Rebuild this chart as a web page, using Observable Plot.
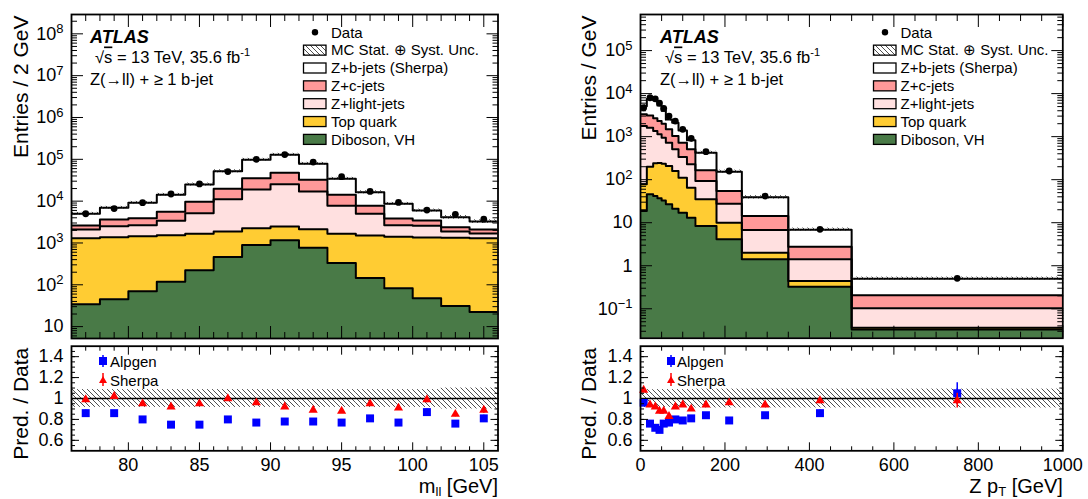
<!DOCTYPE html>
<html>
<head>
<meta charset="utf-8">
<script src="https://cdn.jsdelivr.net/npm/d3@7"></script>
<script src="https://cdn.jsdelivr.net/npm/@observablehq/plot@0.6"></script>
<style>
  html,body{margin:0;padding:0;background:#fff;}
  #fig{position:relative;width:1088px;height:499px;overflow:hidden;background:#fff;}
  #fig > svg{position:absolute;}
</style>
</head>
<body>
<div id="fig">
<svg id="defs" width="0" height="0" style="position:absolute;left:0;top:0">
  <defs>
    <pattern id="hatch" patternUnits="userSpaceOnUse" width="5" height="5">
      <path d="M-1,-1 L6,6 M-1,4 L1,6 M4,-1 L6,1" stroke="#222" stroke-width="0.8" fill="none"/>
    </pattern>
  </defs>
</svg>
</div>
<script>
const FONT = '"Liberation Sans", Arial, Helvetica, sans-serif';

// ---------------- Left panel: m_ll ----------------
const mllEdges = [76,78,80,82,84,86,88,90,92,94,96,98,100,102,104,106];
const mllData  = [5000,6650,9200,14800,25800,51000,100000,130000,86000,38400,17100,9300,6100,4850,3700];
const mllZb    = [2362,3280,5200,8610,15330,32200,62000,80700,45650,19980,8610,4770,2520,1745,1158];
const mllZc    = [516,1130,1250,2170,4480,8600,16340,22140,15370,6440,2750,1190,870,500,413];
const mllZl    = [797,1130,1200,1850,3490,9230,16710,22890,14850,6070,3470,1250,1220,550,384];
const mllTop   = [1261,1325,1376,1410,1429,1409,1348,1307,1363,1317,1357,1318,1299,1293,1273];
const mllVV    = [34.2,45,69.9,119,222,465,900,1160,764,334,146,82.5,47.5,31.3,22.5];
const mllUnc   = [0.085,0.085,0.085,0.085,0.085,0.085,0.085,0.085,0.085,0.085,0.085,0.085,0.085,0.1,0.1];
const mllAlpgen    = [0.86,0.86,0.80,0.75,0.75,0.80,0.77,0.78,0.78,0.77,0.81,0.77,0.87,0.76,0.81];
const mllAlpgenErr = [0.03,0.025,0.02,0.015,0.015,0.01,0.01,0.01,0.01,0.012,0.015,0.02,0.03,0.025,0.03];
const mllSherpa    = [0.99,1.02,0.95,0.92,0.95,1.00,0.96,0.92,0.89,0.88,0.95,0.91,0.99,0.85,0.89];
const mllSherpaErr = [0.03,0.025,0.02,0.015,0.015,0.01,0.01,0.01,0.01,0.012,0.015,0.02,0.03,0.025,0.03];
const mllXTicks = [80,85,90,95,100,105];

// ---------------- Right panel: Z pT ----------------
const ptEdges = [0,15,30,40,50,60,75,90,110,130,180,240,350,500,1000];
const ptData  = [4690,8010,7590,6030,4540,3010,2300,1480,912,447,159,41.7,7.0,0.51];
const ptZb    = [1765,4430,4320,3000,2000,1020,1086,668,313,255,98.5,24.7,4.13,0.294];
const ptZc    = [1540,1490,1310,1170,1053,758,523,386,280,72,27,7.54,1.36,0.103];
const ptZl    = [1682,1410,1110,885,707,515,348,225,162,58,17.5,4.76,0.967,0.067];
const ptTop   = [59.3,154.3,198.3,208,202,180,138,94,52,26.6,5.9,0.59,0.117,0.003];
const ptVV    = [18.7,45.7,41.7,37,33,27,21,17,13,8.4,4.1,1.41,0.326,0.033];
const ptUnc   = [0.085,0.085,0.085,0.085,0.085,0.085,0.085,0.085,0.085,0.09,0.09,0.09,0.09,0.09];
const ptAlpgen    = [0.96,0.76,0.72,0.70,0.76,0.77,0.80,0.79,0.81,0.84,0.79,0.84,0.86,1.05];
const ptAlpgenErr = [0.015,0.01,0.01,0.01,0.01,0.01,0.01,0.01,0.01,0.01,0.012,0.015,0.03,0.1];
const ptSherpa    = [1.08,0.94,0.92,0.88,0.88,0.83,0.92,0.94,0.90,0.94,0.96,0.94,0.98,0.98];
const ptSherpaErr = [0.015,0.01,0.01,0.01,0.01,0.01,0.01,0.01,0.01,0.01,0.012,0.015,0.03,0.07];
const ptXTicks = [0,200,400,600,800,1000];

// ---------------- Common ----------------
const layerNames  = ["Diboson, VH","Top quark","Z+light-jets","Z+c-jets","Z+b-jets (Sherpa)"];
const layerColors = ["#497a47","#ffcc33","#ffe0e0","#ff9999","#ffffff"];
const ratioTicks = [0.6,0.8,1.0,1.2,1.4];

const STYLE = {fontFamily: FONT, fontSize: "18px", color: "black", background: "transparent", overflow: "visible"};
const fig = document.getElementById("fig");

function logTicks(lo, hi) {
  const major = [], minor = [];
  for (let k = Math.floor(Math.log10(lo)) - 1; k <= Math.ceil(Math.log10(hi)); k++) {
    const p = Math.pow(10, k);
    if (p >= lo && p <= hi) major.push(p);
    for (let m = 2; m <= 9; m++) { const v = m * p; if (v >= lo && v <= hi) minor.push(v); }
  }
  return {major, minor};
}
function logFmt(v) {
  const k = Math.round(Math.log10(v));
  if (k === 0) return "1";
  if (k === 1) return "10";
  return "10^" + k;
}
function fixText(svg) {
  svg.querySelectorAll("text").forEach(t => {
    const s = t.textContent;
    const m = /^10\^(-?\d+)$/.exec(s);
    if (m) {
      t.textContent = "10";
      const ts = document.createElementNS("http://www.w3.org/2000/svg", "tspan");
      ts.setAttribute("dy", "-0.5em"); ts.setAttribute("font-size", "13px");
      ts.textContent = m[1].replace("-", "\u2212");
      t.appendChild(ts);
    } else if (s === "m_ll [GeV]") {
      t.innerHTML = 'm<tspan dy="3.5" font-size="13px">ll</tspan><tspan dy="-3.5"> [GeV]</tspan>';
    } else if (s === "Z p_T [GeV]") {
      t.innerHTML = 'Z p<tspan dy="3.5" font-size="13px">T</tspan><tspan dy="-3.5"> [GeV]</tspan>';
    }
  });
}

function buildMain(cfg) {
  const {edges, layers, data, unc, yDomain, xDomain, xMajor, xMinor, ytitle} = cfg;
  const n = edges.length - 1;
  const bins = d3.range(n).map(i => ({x1: edges[i], x2: edges[i+1], c: (edges[i]+edges[i+1])/2, d: data[i], u: unc[i]}));
  let acc = new Array(n).fill(0);
  const cums = layers.map(arr => { const lo = acc.slice(); acc = acc.map((a, i) => a + arr[i]); return {lo, hi: acc.slice()}; });
  const tot = acc;
  bins.forEach((b, i) => b.t = tot[i]);
  const floor = yDomain[0] / 100;
  const marks = [];
  cums.forEach((c, k) => {
    const pts = edges.map((e, i) => { const j = Math.min(i, n - 1); return {x: e, y1: k === 0 ? floor : c.lo[j], y2: c.hi[j]}; });
    marks.push(Plot.area(pts, {x1: "x", y1: "y1", y2: "y2", curve: "step-after", fill: layerColors[k], clip: true}));
  });
  cums.forEach((c, k) => {
    const pts = edges.map((e, i) => ({x: e, y: c.hi[Math.min(i, n - 1)]}));
    marks.push(Plot.line(pts, {x: "x", y: "y", curve: "step-after", stroke: "black", strokeWidth: 2, clip: true}));
  });
  marks.push(Plot.rect(bins, {x1: "x1", x2: "x2", y1: d => d.t * (1 - d.u), y2: d => d.t * (1 + d.u), fill: "url(#hatch)", clip: true}));
  marks.push(Plot.dot(bins, {x: "c", y: "d", r: 3.4, fill: "black"}));
  const yt = logTicks(yDomain[0], yDomain[1]);
  marks.push(
    Plot.axisY(yt.major, {anchor: "left", tickSize: -12, tickPadding: 20, tickFormat: logFmt, label: null, fontSize: 18}),
    Plot.axisY(yt.minor, {anchor: "left", tickSize: -6, tickFormat: () => "", label: null}),
    Plot.axisY(yt.major, {anchor: "right", tickSize: -12, tickFormat: () => "", label: null}),
    Plot.axisY(yt.minor, {anchor: "right", tickSize: -6, tickFormat: () => "", label: null}),
    Plot.axisX(xMajor, {anchor: "bottom", tickSize: -12, tickFormat: () => "", label: null}),
    Plot.axisX(xMinor, {anchor: "bottom", tickSize: -6, tickFormat: () => "", label: null}),
    Plot.axisX(xMajor, {anchor: "top", tickSize: -12, tickFormat: () => "", label: null}),
    Plot.axisX(xMinor, {anchor: "top", tickSize: -6, tickFormat: () => "", label: null}),
    Plot.frame({stroke: "black", strokeWidth: 1.8}),
    Plot.text([ytitle], {frameAnchor: "top-left", rotate: -90, textAnchor: "end", lineAnchor: "middle", dx: cfg.ytDx, dy: 1, fontSize: 21})
  );
  const svg = Plot.plot({
    width: cfg.width, height: cfg.height,
    marginLeft: cfg.ml, marginRight: cfg.mr, marginTop: cfg.mt, marginBottom: cfg.mb,
    x: {domain: xDomain, axis: null, label: null},
    y: {type: "log", domain: yDomain, axis: null, label: null},
    style: STYLE,
    marks
  });
  fixText(svg);
  return svg;
}

function buildRatio(cfg) {
  const {edges, alp, alpErr, she, sheErr, unc, xDomain, xMajor, xMinor, xLabels, xtitle} = cfg;
  const n = edges.length - 1;
  const bins = d3.range(n).map(i => ({x1: edges[i], x2: edges[i+1], c: (edges[i]+edges[i+1])/2,
    a: alp[i], ae: alpErr[i], s: she[i], se: sheErr[i], u: unc[i]}));
  const minorY = d3.range(0.55, 1.5, 0.05).map(v => +v.toFixed(2));
  const marks = [
    Plot.rect(bins, {x1: "x1", x2: "x2", y1: d => 1 - d.u, y2: d => 1 + d.u, fill: "url(#hatch)"}),
    Plot.ruleY([1], {stroke: "black", strokeWidth: 1.5}),
    Plot.ruleX(bins, {x: "c", y1: d => d.a - d.ae, y2: d => d.a + d.ae, stroke: "#0000ff", strokeWidth: 1.5}),
    Plot.dot(bins, {x: "c", y: "a", symbol: "square", r: 4.5, fill: "#0000ff"}),
    Plot.ruleX(bins, {x: "c", y1: d => d.s - d.se, y2: d => d.s + d.se, stroke: "#ff0000", strokeWidth: 1.5}),
    Plot.dot(bins, {x: "c", y: "s", symbol: "triangle", r: 3.4, fill: "#ff0000"}),
    Plot.axisY(ratioTicks, {anchor: "left", tickSize: -8, tickPadding: 16, tickFormat: d => d === 1 ? "1" : d.toFixed(1), label: null, fontSize: 18}),
    Plot.axisY(minorY, {anchor: "left", tickSize: -4, tickFormat: () => "", label: null}),
    Plot.axisY(ratioTicks, {anchor: "right", tickSize: -8, tickFormat: () => "", label: null}),
    Plot.axisY(minorY, {anchor: "right", tickSize: -4, tickFormat: () => "", label: null}),
    Plot.axisX(xMajor, {anchor: "bottom", tickSize: -8, tickPadding: 15, tickFormat: xLabels, label: null, fontSize: 18}),
    Plot.axisX(xMinor, {anchor: "bottom", tickSize: -4, tickFormat: () => "", label: null}),
    Plot.axisX(xMajor, {anchor: "top", tickSize: -8, tickFormat: () => "", label: null}),
    Plot.axisX(xMinor, {anchor: "top", tickSize: -4, tickFormat: () => "", label: null}),
    Plot.frame({stroke: "black", strokeWidth: 1.8}),
    Plot.text(["Pred. / Data"], {frameAnchor: "top-left", rotate: -90, textAnchor: "end", lineAnchor: "middle", dx: cfg.ytDx, dy: 1.5, fontSize: 21}),
    Plot.text([xtitle], {frameAnchor: "bottom-right", textAnchor: "end", lineAnchor: "middle", dy: 35.6, fontSize: 20})
  ];
  const svg = Plot.plot({
    width: cfg.width, height: cfg.height,
    marginLeft: cfg.ml, marginRight: cfg.mr, marginTop: cfg.mt, marginBottom: cfg.mb,
    x: {domain: xDomain, axis: null, label: null},
    y: {domain: [0.5, 1.5], axis: null, label: null},
    style: STYLE,
    marks
  });
  fixText(svg);
  return svg;
}

function place(svg, left, top) {
  svg.style.position = "absolute"; svg.style.left = left + "px"; svg.style.top = top + "px";
  fig.appendChild(svg);
}

// Left main
place(buildMain({
  edges: mllEdges, layers: [mllVV, mllTop, mllZl, mllZc, mllZb], data: mllData, unc: mllUnc,
  yDomain: [5.2, 2.9e8], xDomain: [76, 106], xMajor: mllXTicks, xMinor: d3.range(77, 106, 1).filter(v => v % 5 !== 0),
  ytitle: "Entries / 2 GeV", ytDx: -50,
  width: 510, height: 342, ml: 71, mr: 12.5, mt: 14, mb: 4
}), 0, 0);
// Left ratio
place(buildRatio({
  edges: mllEdges, alp: mllAlpgen, alpErr: mllAlpgenErr, she: mllSherpa, sheErr: mllSherpaErr, unc: mllUnc,
  xDomain: [76, 106], xMajor: mllXTicks, xMinor: d3.range(77, 106, 1).filter(v => v % 5 !== 0),
  xLabels: d => String(d), xtitle: "m_ll [GeV]", ytDx: -50,
  width: 510, height: 157, ml: 71, mr: 12.5, mt: 3.7, mb: 48.7
}), 0, 342);
// Right main
place(buildMain({
  edges: ptEdges, layers: [ptVV, ptTop, ptZl, ptZc, ptZb], data: ptData, unc: ptUnc,
  yDomain: [0.0207, 6.9e5], xDomain: [0, 1000], xMajor: ptXTicks, xMinor: d3.range(50, 1000, 50).filter(v => v % 200 !== 0),
  ytitle: "Entries / GeV", ytDx: -51,
  width: 528, height: 342, ml: 80, mr: 25.7, mt: 14, mb: 4.3
}), 560, 0);
// Right ratio
place(buildRatio({
  edges: ptEdges, alp: ptAlpgen, alpErr: ptAlpgenErr, she: ptSherpa, sheErr: ptSherpaErr, unc: ptUnc,
  xDomain: [0, 1000], xMajor: ptXTicks, xMinor: d3.range(50, 1000, 50).filter(v => v % 200 !== 0),
  xLabels: d => String(d), xtitle: "Z p_T [GeV]", ytDx: -51,
  width: 528, height: 157, ml: 80, mr: 25.7, mt: 3.7, mb: 48.7
}), 560, 342);

// ---------------- Legends and labels overlay ----------------
const legendLabels = ["Data", "MC Stat. \u2295 Syst. Unc.", "Z+b-jets (Sherpa)", "Z+c-jets", "Z+light-jets", "Top quark", "Diboson, VH"];
const legendFills = [null, "url(#hatch)", "#ffffff", "#ff9999", "#ffe0e0", "#ffcc33", "#497a47"];
const ov = d3.create("svg").attr("width", 1088).attr("height", 499)
  .style("position", "absolute").style("left", "0px").style("top", "0px")
  .attr("font-family", FONT).attr("fill", "black");

function legend(boxX, textX, y0, step) {
  legendLabels.forEach((lab, i) => {
    const cy = y0 + i * step;
    if (i === 0) ov.append("circle").attr("cx", boxX + 11.5).attr("cy", cy).attr("r", 3.2).attr("fill", "black");
    else ov.append("rect").attr("x", boxX).attr("y", cy - 5).attr("width", 22.5).attr("height", 10)
      .attr("fill", legendFills[i]).attr("stroke", "black").attr("stroke-width", 1.3);
    ov.append("text").attr("x", textX).attr("y", cy + 5.3).attr("font-size", 15).text(lab);
  });
}
legend(303.5, 331, 32.3, 17.85);
legend(873.5, 900.5, 32.3, 17.85);

function atlas(x, dx2) {
  ov.append("text").attr("x", x).attr("y", 42.7).attr("font-size", 18).attr("font-weight", "bold").attr("font-style", "italic").text("ATLAS");
  const t = ov.append("text").attr("x", x + 5 + dx2).attr("y", 62.5).attr("font-size", 16.5);
  t.append("tspan").text("\u221A");
  t.append("tspan").attr("text-decoration", "overline").text("s");
  t.append("tspan").text(" = 13 TeV, 35.6 fb");
  t.append("tspan").attr("dy", -7).attr("font-size", 11).text("-1");
  ov.append("text").attr("x", x).attr("y", 85).attr("font-size", 16.5).text("Z(\u2192ll) + \u2265 1 b-jet");
}
atlas(90, 0);
atlas(660, 0);

function ratioLegend(x, tx) {
  ov.append("line").attr("x1", x).attr("x2", x).attr("y1", 355).attr("y2", 367).attr("stroke", "#0000ff").attr("stroke-width", 1.5);
  ov.append("rect").attr("x", x - 4).attr("y", 357).attr("width", 8).attr("height", 8).attr("fill", "#0000ff");
  ov.append("text").attr("x", tx).attr("y", 366.5).attr("font-size", 15).text("Alpgen");
  ov.append("line").attr("x1", x).attr("x2", x).attr("y1", 373).attr("y2", 386).attr("stroke", "#ff0000").attr("stroke-width", 1.5);
  ov.append("path").attr("d", `M${x - 4},${383} L${x + 4},${383} L${x},${376} Z`).attr("fill", "#ff0000");
  ov.append("text").attr("x", tx).attr("y", 385.5).attr("font-size", 15).text("Sherpa");
}
ratioLegend(103, 110);
ratioLegend(671, 677);

fig.appendChild(ov.node());
</script>
</body>
</html>
